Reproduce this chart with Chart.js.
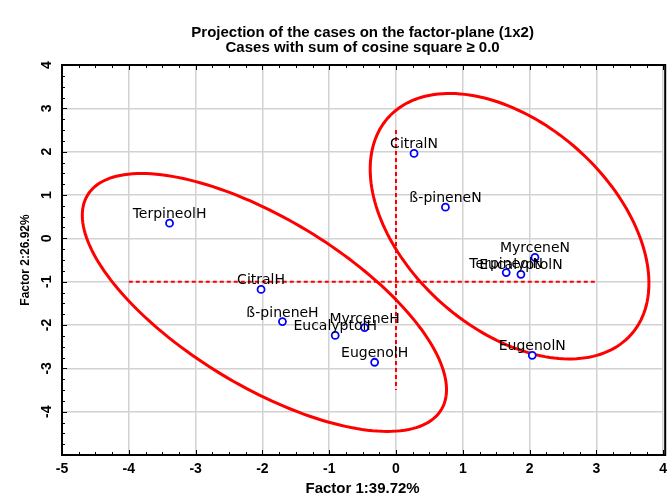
<!DOCTYPE html>
<html>
<head>
<meta charset="utf-8">
<title>Projection of the cases on the factor-plane</title>
<script src="https://cdn.jsdelivr.net/npm/chart.js@4/dist/chart.umd.min.js"></script>
<style>
    html, body { margin: 0; padding: 0; background: #fff; overflow: hidden; }
    #wrap { width: 669px; height: 497px; position: relative; }
</style>
</head>
<body>
<div id="wrap"><canvas id="pcaChart"></canvas></div>
<script>
// case labels and their coordinates on the factor plane
var caseNames = ['TerpineolH', 'CitralH', 'ß-pineneH', 'EucalyptolH', 'MyrceneH', 'EugenolH',
                 'CitralN', 'ß-pineneN', 'TerpineolN', 'EucalyptolN', 'MyrceneN', 'EugenolN'];
var factor1 = [-3.39, -2.02, -1.70, -0.91, -0.47, -0.32, 0.27, 0.74, 1.65, 1.87, 2.08, 2.04];
var factor2 = [0.35, -1.18, -1.92, -2.24, -2.06, -2.86, 1.96, 0.72, -0.79, -0.83, -0.44, -2.70];

// axis ticks
var xTickValues = [-5, -4, -3, -2, -1, 0, 1, 2, 3, 4];
var yTickValues = [-5, -4, -3, -2, -1, 0, 1, 2, 3, 4];
var yTickLabels = [-4, -3, -2, -1, 0, 1, 2, 3, 4];

// red dashed cross
var crossHx = [-4, 3];
var crossHy = [-1, -1];
var crossVx = [0, 0];
var crossVy = [2.5, -3.5];

// group ellipses: centre plus two conjugate semi-axes (factor units)
var ellipseCx = [-1.97, 1.70];
var ellipseCy = [-1.48, 0.28];
var ellipseU = [[2.65, -2.47], [1.82, -2.50]];
var ellipseV = [[-0.64, -1.66], [-1.02, -1.77]];

(function () {
    'use strict';

    var AXIS_FONT = '"Liberation Sans", Arial, sans-serif';

    function toPoints(xs, ys) {
        return xs.map(function (x, i) { return { x: x, y: ys[i] }; });
    }

    // frame, inner tick marks and rotated y labels
    var framePlugin = {
        id: 'frame',
        afterDraw: function (chart) {
            var ctx = chart.ctx;
            var a = chart.chartArea;
            var xs = chart.scales.x, ys = chart.scales.y;
            var v, p, len;
            ctx.save();
            ctx.strokeStyle = '#000';
            ctx.lineWidth = 1;
            ctx.beginPath();
            for (v = xs.min; v <= xs.max + 1e-6; v += 0.25) {
                p = Math.round(xs.getPixelForValue(v)) + 0.5;
                len = Math.abs(v - Math.round(v)) < 1e-6 ? 5 : 3;
                ctx.moveTo(p, a.top); ctx.lineTo(p, a.top + len);
                ctx.moveTo(p, a.bottom); ctx.lineTo(p, a.bottom - len);
            }
            for (v = ys.min; v <= ys.max + 1e-6; v += 0.25) {
                p = Math.round(ys.getPixelForValue(v)) + 0.5;
                len = Math.abs(v - Math.round(v)) < 1e-6 ? 5 : 3;
                ctx.moveTo(a.left, p); ctx.lineTo(a.left + len, p);
            }
            ctx.stroke();

            ctx.lineWidth = 2;
            ctx.strokeRect(a.left, a.top, a.right - a.left + 2, a.bottom - a.top);

            ctx.fillStyle = '#000';
            ctx.font = 'bold 14px ' + AXIS_FONT;
            ctx.textAlign = 'center';
            ctx.textBaseline = 'middle';
            yTickLabels.forEach(function (t) {
                ctx.save();
                ctx.translate(46, ys.getPixelForValue(t));
                ctx.rotate(-Math.PI / 2);
                ctx.fillText(String(t), 0, 1);
                ctx.restore();
            });
            ctx.restore();
        }
    };

    var ellipsePlugin = {
        id: 'groupEllipses',
        beforeDatasetsDraw: function (chart) {
            var ctx = chart.ctx;
            var xs = chart.scales.x, ys = chart.scales.y;
            ctx.save();
            ctx.strokeStyle = '#ff0000';
            ctx.lineWidth = 3;
            ellipseCx.forEach(function (ex, i) {
                var cx = xs.getPixelForValue(ex);
                var cy = ys.getPixelForValue(ellipseCy[i]);
                var ux = xs.getPixelForValue(ex + ellipseU[i][0]) - cx;
                var uy = ys.getPixelForValue(ellipseCy[i] + ellipseU[i][1]) - cy;
                var vx = xs.getPixelForValue(ex + ellipseV[i][0]) - cx;
                var vy = ys.getPixelForValue(ellipseCy[i] + ellipseV[i][1]) - cy;
                ctx.beginPath();
                for (var k = 0; k <= 180; k++) {
                    var t = k / 180 * Math.PI * 2;
                    var px = cx + ux * Math.cos(t) + vx * Math.sin(t);
                    var py = cy + uy * Math.cos(t) + vy * Math.sin(t);
                    if (k === 0) ctx.moveTo(px, py); else ctx.lineTo(px, py);
                }
                ctx.closePath();
                ctx.stroke();
            });
            ctx.restore();
        }
    };

    var labelPlugin = {
        id: 'caseLabels',
        afterDatasetsDraw: function (chart) {
            var ctx = chart.ctx;
            var meta = chart.getDatasetMeta(0);
            ctx.save();
            ctx.fillStyle = '#000';
            ctx.font = '14px "DejaVu Sans", sans-serif';
            ctx.textAlign = 'center';
            ctx.textBaseline = 'alphabetic';
            meta.data.forEach(function (pt, i) {
                ctx.fillText(caseNames[i], pt.x, pt.y - 5);
            });
            ctx.restore();
        }
    };

    var dashed = {
        type: 'line',
        showLine: true,
        borderColor: '#ff0000',
        borderWidth: 2,
        borderDash: [4, 3],
        pointRadius: 0,
        fill: false,
        order: 2
    };

    new Chart(document.getElementById('pcaChart'), {
        type: 'scatter',
        data: {
            datasets: [
                {
                    label: 'Cases',
                    data: toPoints(factor1, factor2),
                    pointStyle: 'circle',
                    pointRadius: 3.5,
                    pointBorderWidth: 1.8,
                    borderColor: '#0000ff',
                    backgroundColor: '#ffffff',
                    order: 0
                },
                Object.assign({ label: 'h', data: toPoints(crossHx, crossHy) }, dashed),
                Object.assign({ label: 'v', data: toPoints(crossVx, crossVy) }, dashed)
            ]
        },
        options: {
            responsive: true,
            maintainAspectRatio: false,
            animation: false,
            layout: { padding: 0 },
            plugins: {
                legend: { display: false },
                tooltip: { enabled: false },
                title: {
                    display: true,
                    fullSize: false,
                    text: ['Projection of the cases on the factor-plane (1x2)', 'Cases with sum of cosine square \u2265 0.0'],
                    color: '#000',
                    font: { family: AXIS_FONT, size: 15, weight: 'bold', lineHeight: '15px' },
                    padding: { top: 25, bottom: 10 }
                }
            },
            scales: {
                x: {
                    type: 'linear',
                    min: -5,
                    max: 4,
                    afterBuildTicks: function (scale) {
                        scale.ticks = xTickValues.map(function (v) { return { value: v }; });
                    },
                    afterFit: function (scale) {
                        scale.height = 42;
                        scale.paddingLeft = 0;
                        scale.paddingRight = 0;
                    },
                    ticks: { color: '#000', padding: 6, maxRotation: 0, font: { family: AXIS_FONT, size: 14, weight: 'bold' } },
                    grid: { color: '#d2d2d2', lineWidth: 1.5, drawTicks: false },
                    border: { display: false },
                    title: {
                        display: true,
                        text: 'Factor 1:39.72%',
                        color: '#000',
                        font: { family: AXIS_FONT, size: 15, weight: 'bold' },
                        padding: { top: 0, bottom: -1 }
                    }
                },
                y: {
                    type: 'linear',
                    min: -5,
                    max: 4,
                    afterBuildTicks: function (scale) {
                        scale.ticks = yTickValues.map(function (v) { return { value: v }; });
                    },
                    afterFit: function (scale) {
                        scale.width = 62;
                        scale.paddingTop = 0;
                        scale.paddingBottom = 0;
                    },
                    ticks: { display: false },
                    grid: { color: '#d2d2d2', lineWidth: 1.5, drawTicks: false },
                    border: { display: false },
                    title: {
                        display: true,
                        text: 'Factor 2:26.92%',
                        color: '#000',
                        font: { family: AXIS_FONT, size: 12, weight: 'bold' },
                        padding: { top: 18, bottom: 0 }
                    }
                }
            }
        },
        plugins: [ellipsePlugin, labelPlugin, framePlugin]
    });
})();
</script>
</body>
</html>
